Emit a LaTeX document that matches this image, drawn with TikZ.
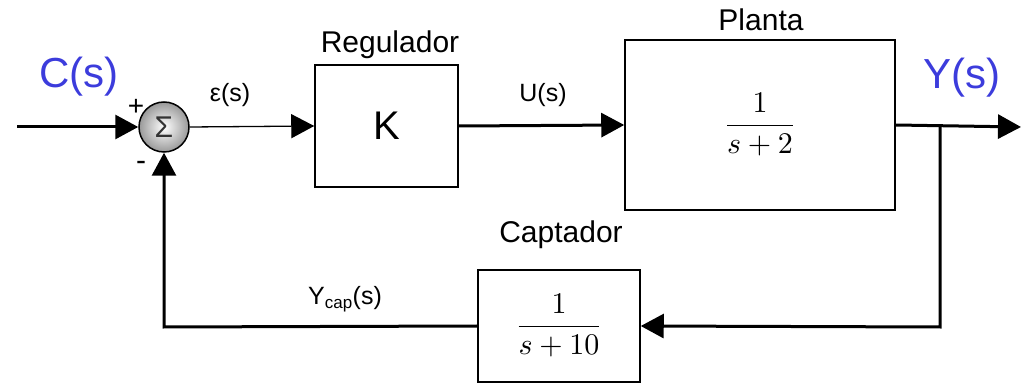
\documentclass[tikz,border=0pt]{standalone}
\usepackage{graphicx}
\usepackage{fontspec}
\setmainfont{Liberation Sans}
\usetikzlibrary{arrows.meta}
\definecolor{sigblue}{RGB}{60,60,220}
\begin{document}
\begin{tikzpicture}[x=1pt,y=-1pt,
  blk/.style={draw=black,line width=1.5pt,minimum width=#1,inner sep=0pt},
  lbl/.style={font=\fontsize{30}{34}\selectfont},
  small/.style={font=\fontsize{25}{29}\selectfont},
  sig/.style={font=\fontsize{42}{46}\selectfont,text=sigblue},
  thickline/.style={line width=3pt},
  thinline/.style={line width=1.3pt},
  tip/.style={-{Triangle[length=23pt,width=24pt]}}
]
\useasboundingbox (0,0) rectangle (1021,387);
% blocks
\node[blk=143pt,minimum height=122pt] (K) at (386.5,126) {\fontsize{40}{44}\selectfont K};
\node[blk=270pt,minimum height=170pt] (P) at (760,125) {\scalebox{3}{$\displaystyle\frac{1}{s+2}$}};
\node[blk=162pt,minimum height=112pt] (C) at (559,326) {\scalebox{3}{$\displaystyle\frac{1}{s+10}$}};
% summing junction
\node[circle,draw=black,line width=1.5pt,minimum size=50pt,inner sep=0pt,
  inner color=white,outer color=gray!80] (S) at (164,127) {\textcolor{black!80}{\fontsize{30}{34}\selectfont Σ}};
% labels
\node[lbl] (lreg) at (390,45) {Regulador};
\node[lbl] (lpla) at (761,20) {Planta};
\node[lbl] (lcap) at (561,235) {Captador};
\node[sig] (lC) at (79,77) {C(s)};
\node[sig] (lY) at (962,78) {Y(s)};
\node[small] (leps) at (230,95) {ε(s)};
\node[small] (lU) at (543,95) {U(s)};
\node[small] (lYc) at (345,299) {Y\textsubscript{\fontsize{17}{20}\selectfont cap}(s)};
\node[font=\fontsize{28}{30}\selectfont] (plus) at (136,107) {+};
\node[font=\fontsize{30}{30}\selectfont] (minus) at (141,166) {-};
% coordinates
\coordinate (in) at (17,127);
\coordinate (out) at (1021,127);
\coordinate (br) at (940,127);
\coordinate (brd) at (940,327);
\coordinate (fb) at (164,327);
% connectors
\draw[thickline,tip] (in) -- (S.west);
\draw[thinline,tip] (S.east) -- (K.west);
\draw[thickline,tip] (K.east) -- (P.west);
\draw[thickline,tip] (P.east) -- (out);
\draw[thickline,tip] (br) -- (brd) -- (C.east);
\draw[thickline,tip] (C.west) -- (fb) -- (S.south);
\end{tikzpicture}
\end{document}
